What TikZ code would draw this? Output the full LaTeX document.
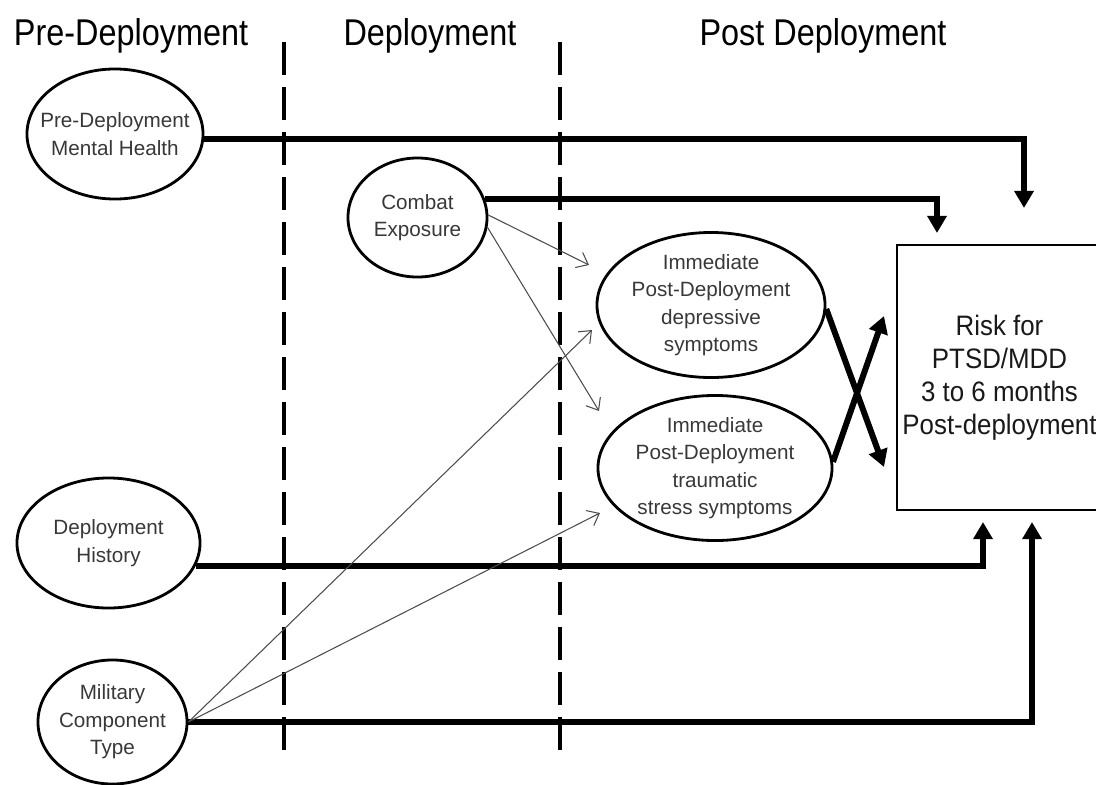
\documentclass[tikz,border=0pt]{standalone}
\usepackage{fontspec}
\setmainfont{Liberation Sans}
\newfontfamily\headfont[FakeStretch=0.87]{Liberation Sans}
\newfontfamily\riskfont[FakeStretch=0.92]{Liberation Sans}
\usetikzlibrary{shapes.geometric,arrows.meta}
\begin{document}
\begin{tikzpicture}[x=0.025cm,y=-0.025cm,
  phase/.style={anchor=base,font=\headfont\fontsize{26.5}{30}\selectfont},
  phaseline/.style={line width=2.4pt,dash pattern=on 0.825cm off 0.3cm},
  factor/.style={draw,ellipse,line width=2pt,inner sep=0pt},
  factortext/.style={align=center,text=black!78,font=\fontsize{14.7}{19.5}\selectfont},
  bigarrow/.style={line width=4.25pt,-{Triangle[length=4.3mm,width=4.7mm]}},
  thinarrow/.style={line width=0.75pt,black!70,-{Straight Barb[length=2.6mm,width=4.2mm]}}]
\useasboundingbox (0,0) rectangle (1096,784);
% phases
\node[phase] (pre) at (131,45) {Pre-Deployment};
\node[phase] (dur) at (430,45) {Deployment};
\node[phase] (post) at (823,45) {Post Deployment};
\draw[phaseline] (284,42) -- (284,760);
\draw[phaseline] (560,42) -- (560,760);
% factors
\node[factor,minimum width=4.4cm,minimum height=3.25cm] (pmh) at (115,134) {};
\node[factortext] (pmhtext) at (pmh) {Pre-Deployment\\Mental Health};
\node[factor,minimum width=3.475cm,minimum height=2.975cm] (ce) at (417.5,217.5) {};
\node[factortext] (cetext) at (ce) {Combat\\Exposure};
\node[factor,minimum width=5.7cm,minimum height=3.625cm] (dep) at (711,305) {};
\node[factortext] (deptext) at (dep) {Immediate\\Post-Deployment\\depressive\\symptoms};
\node[factor,minimum width=5.85cm,minimum height=3.625cm] (tra) at (715,468) {};
\node[factortext] (tratext) at (tra) {Immediate\\Post-Deployment\\traumatic\\stress symptoms};
\node[factor,minimum width=4.575cm,minimum height=3.25cm] (dh) at (108.5,543) {};
\node[factortext] (dhtext) at (dh) {Deployment\\History};
\node[factor,minimum width=3.725cm,minimum height=3.1cm] (mct) at (112.5,722) {};
\node[factortext] (mcttext) at (mct) {Military\\Component\\Type};
% outcome
\node[draw,line width=2pt,minimum width=5.125cm,minimum height=6.625cm,align=center,
  font=\riskfont\fontsize{20}{23.4}\selectfont,text=black!90] (risk) at (999.5,377.5)
  {Risk for\\PTSD/MDD\\3 to 6 months\\Post-deployment};
% arrow ends
\coordinate (pmhend) at (1024,208);
\coordinate (ceend) at (937,233);
\coordinate (dhend) at (983,522);
\coordinate (mctend) at (1032,522);
\coordinate (depend) at (884,467);
\coordinate (traend) at (884,316);
\coordinate (cedep) at (589,265);
\coordinate (cetra) at (599,411);
\coordinate (mctdep) at (592,330);
\coordinate (mcttra) at (600,513);
% paths to risk
\draw[bigarrow] (pmh.-3) -| (pmhend);
\draw[bigarrow] (ce.15) -| (ceend);
\draw[bigarrow] (dh.-15) -| (dhend);
\draw[bigarrow] (mct.east) -| (mctend);
\draw[bigarrow] (dep.-2) -- (depend);
\draw[bigarrow] (tra.3) -- (traend);
% paths to immediate symptoms
\draw[thinarrow] (ce.2) -- (cedep);
\draw[thinarrow] (ce.-8) -- (cetra);
\draw[thinarrow] (mct.east) -- (mctdep);
\draw[thinarrow] (mct.east) -- (mcttra);
\end{tikzpicture}
\end{document}
